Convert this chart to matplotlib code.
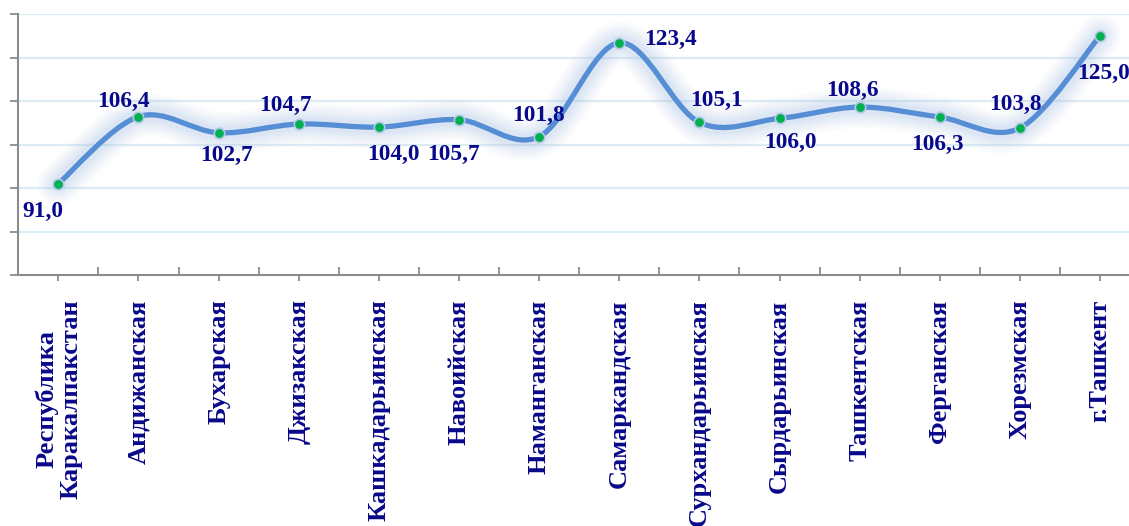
import numpy as np
import matplotlib
matplotlib.use("Agg")
import matplotlib.pyplot as plt
from matplotlib.path import Path
from matplotlib.patches import PathPatch
from matplotlib.ticker import FixedLocator, NullFormatter

# ---------------- data ----------------
regions = ["Республика\nКаракалпакстан", "Андижанская", "Бухарская", "Джизакская",
           "Кашкадарьинская", "Навоийская", "Наманганская", "Самаркандская",
           "Сурхандарьинская", "Сырдарьинская", "Ташкентская", "Ферганская",
           "Хорезмская", "г.Ташкент"]
values = [91.0, 106.4, 102.7, 104.7, 104.0, 105.7, 101.8, 123.4,
          105.1, 106.0, 108.6, 106.3, 103.8, 125.0]
value_labels = ["91,0", "106,4", "102,7", "104,7", "104,0", "105,7", "101,8",
                "123,4", "105,1", "106,0", "108,6", "106,3", "103,8", "125,0"]
y_ticks = [70, 80, 90, 100, 110, 120, 130]

# label placement (pixels: dx right, baseline dy down from the point)
label_dx = [-15, -15, 7.5, -13.5, 14, -6, -1, 51, 17, 11, -7, -2, -5, 3]
label_dy = [33.4, -10, 27.8, -13.5, 32.4, 39.8, -16.2, 1.8, -16.3, 29.6, -11.1, 32.9, -17.9, 42.8]

# ---------------- style ----------------
W, H, DPI = 1129, 526, 100
NAVY = "#08088a"
LINE = "#558ed5"
GLOW = "#a9c3e6"
GRID = "#dcecf4"
AXIS = "#8c8c8c"
SERIF = ["Liberation Serif", "DejaVu Serif"]

fig = plt.figure(figsize=(W / DPI, H / DPI), dpi=DPI)
step = 80.13
ax = fig.add_axes([18.3 / W, (H - 275) / H, step * len(values) / W, (275 - 14) / H])
ax.set_xlim(-0.5, len(values) - 0.5)
ax.set_ylim(y_ticks[0], y_ticks[-1])

# grid
for yv in y_ticks[1:]:
    ax.axhline(yv, color=GRID, lw=1.6, zorder=0)

# smooth curve (Excel-like Catmull-Rom Bezier)
x = np.arange(len(values), dtype=float)
y = np.array(values, dtype=float)
pts = np.column_stack([x, y])
verts = [tuple(pts[0])]
codes = [Path.MOVETO]
n = len(pts)
for i in range(n - 1):
    p0 = pts[i - 1] if i > 0 else pts[i]
    p1 = pts[i]
    p2 = pts[i + 1]
    p3 = pts[i + 2] if i + 2 < n else pts[i + 1]
    c1 = p1 + (p2 - p0) / 6.0
    c2 = p2 - (p3 - p1) / 6.0
    verts += [tuple(c1), tuple(c2), tuple(p2)]
    codes += [Path.CURVE4] * 3
path = Path(verts, codes)

# glow
for lw, a in [(30, 0.05), (26, 0.06), (22, 0.07), (18, 0.08), (14, 0.10), (10, 0.12)]:
    ax.add_patch(PathPatch(path, facecolor="none", edgecolor=GLOW, lw=lw, alpha=a,
                           capstyle="round", joinstyle="round", zorder=2))
ax.add_patch(PathPatch(path, facecolor="none", edgecolor=LINE, lw=3.8,
                       capstyle="round", joinstyle="round", zorder=3))

ax.plot(x, y, linestyle="none", marker="o", markersize=7.5, markerfacecolor="#00b050",
        markeredgecolor="#b4c7e7", markeredgewidth=1.2, zorder=4)

# data labels
for xi, yi, lab, dx, dy in zip(x, y, value_labels, label_dx, label_dy):
    ax.annotate(lab, (xi, yi), xytext=(dx, -dy), textcoords="offset pixels",
                ha="center", va="baseline", fontsize=16.8, fontweight="bold",
                color=NAVY, family=SERIF, zorder=5, annotation_clip=False)

# axes styling
for s in ["top", "right"]:
    ax.spines[s].set_visible(False)
for s in ["left", "bottom"]:
    ax.spines[s].set_color(AXIS)
    ax.spines[s].set_linewidth(1.5)
    ax.spines[s].set_zorder(6)

ax.set_yticks(y_ticks)
ax.set_yticklabels([])
ax.tick_params(axis="y", direction="out", length=5.8, width=1.3, color=AXIS)

ax.set_xticks(x)
ax.set_xticklabels(regions, rotation=90, fontsize=19, fontweight="bold", color=NAVY,
                   family=SERIF, linespacing=1.05, ha="center", va="top",
                   multialignment="center")
ax.xaxis.set_minor_locator(FixedLocator(np.arange(-0.5, len(values), 1.0)))
ax.xaxis.set_minor_formatter(NullFormatter())
ax.tick_params(axis="x", which="major", direction="out", length=4.5, width=1.3,
               color=AXIS, pad=13)
ax.tick_params(axis="x", which="minor", direction="in", length=5.8, width=1.3, color=AXIS)

fig.savefig("out.png", dpi=DPI)
